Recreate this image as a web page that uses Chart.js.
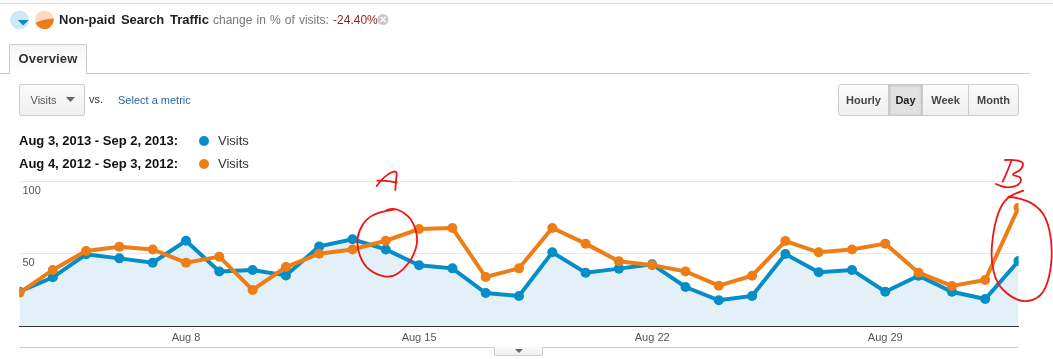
<!DOCTYPE html>
<html><head><meta charset="utf-8">
<script src="https://cdn.jsdelivr.net/npm/chart.js@4"></script>
<style>
html,body{margin:0;padding:0;background:#fff;width:1053px;height:359px;overflow:hidden;font-family:"Liberation Sans",Arial,sans-serif}
.a{position:absolute;white-space:nowrap}
canvas{position:absolute;left:0;top:0}
.btn{background:linear-gradient(#fbfbfb,#efefef);box-sizing:border-box}
.seg{position:absolute;top:0;height:31px;line-height:30px;text-align:center;font-size:11px;font-weight:bold;color:#444;box-sizing:border-box;border-right:1px solid #ccc}
</style></head><body>
<canvas id="c" width="1053" height="359"></canvas>

<div class="a" style="left:0;top:0;width:1053px;height:3px;background:#fafafa;border-bottom:1px solid #ddd"></div>
<svg class="a" style="left:9px;top:9px" width="46" height="22">
  <circle cx="10.5" cy="11" r="9.5" fill="#cfe8f4"/><path d="M15 15 L 28 15 L 21.500 22 Z" transform="translate(-4 -1) scale(.85 .8)" fill="#058dc7"/>
  <circle cx="35.500" cy="11" r="9.500" fill="#fbdcc2"/><path d="M26.500 14 Q33 10 44.800 9.500 Q45 16 39 19.500 Q31 22 26.500 14Z" fill="#ed7e17"/>
</svg>
<div class="a" style="left:59px;top:12px;font-size:13px;font-weight:bold;color:#222;word-spacing:2px">Non-paid Search Traffic</div>
<div class="a" style="left:213px;top:13px;font-size:12px;color:#777;word-spacing:.8px">change in % of visits: <span style="color:#8a2a1c">-24.40%</span></div>
<svg class="a" style="left:376px;top:13px" width="14" height="14"><circle cx="7" cy="6.500" r="5.500" fill="#c9c9c9"/><path d="M4.500 4 L9.500 9 M9.500 4 L4.500 9" stroke="#fff" stroke-width="1.300"/></svg>

<div class="a" style="left:0;top:73px;width:1030px;height:1px;background:#ccc"></div>
<div class="a" style="left:9px;top:44px;width:78px;height:30px;box-sizing:border-box;border:1px solid #ccc;border-bottom:0;background:linear-gradient(#f5f5f5,#fff);font-size:13px;font-weight:bold;color:#333;line-height:28px;text-align:center;border-radius:2px 2px 0 0;letter-spacing:.15px">Overview</div>

<div class="a btn" style="left:19px;top:84px;width:66px;height:32px;border:1px solid #ccc;border-radius:2px;font-size:11px;color:#555;line-height:30px;padding-left:10.500px">Visits</div>
<svg class="a" style="left:66px;top:97px" width="10" height="6"><path d="M0 0H9L4.500 5Z" fill="#666"/></svg>
<div class="a" style="left:89px;top:93px;font-size:11px;color:#333">vs.</div>
<div class="a" style="left:118px;top:94px;font-size:11px;color:#2a66a8">Select a metric</div>

<div class="a" style="left:838px;top:84px;width:181px;height:32px;border:1px solid #ccc;border-radius:3px;box-sizing:border-box;background:linear-gradient(#fbfbfb,#efefef);overflow:hidden">
  <div class="seg" style="left:0;width:50px">Hourly</div>
  <div class="seg" style="left:50px;width:34px;background:#e2e2e2;box-shadow:inset 0 0 3px #999;color:#222">Day</div>
  <div class="seg" style="left:84px;width:46px">Week</div>
  <div class="seg" style="left:130px;width:49px;border-right:0">Month</div>
</div>

<div class="a" style="left:19px;top:133px;font-size:13px;font-weight:bold;color:#111">Aug 3, 2013 - Sep 2, 2013:</div>
<div class="a" style="left:19px;top:156px;font-size:13px;font-weight:bold;color:#111">Aug 4, 2012 - Sep 3, 2012:</div>
<div class="a" style="left:199px;top:136px;width:10px;height:10px;border-radius:50%;background:#058dc7"></div>
<div class="a" style="left:199px;top:159px;width:10px;height:10px;border-radius:50%;background:#ed7e17"></div>
<div class="a" style="left:218px;top:133px;font-size:13px;color:#333">Visits</div>
<div class="a" style="left:218px;top:156px;font-size:13px;color:#333">Visits</div>

<div class="a" style="left:20px;top:347px;width:998px;height:1px;background:#ccc"></div>
<div class="a btn" style="left:494px;top:347px;width:49px;height:9px;border:1px solid #ccc;border-top:0;border-radius:0 0 2px 2px"></div>
<svg class="a" style="left:515px;top:349px" width="9" height="5"><path d="M0 0H8L4 4Z" fill="#666"/></svg>

<svg class="a" id="ink" style="left:0;top:0;pointer-events:none" width="1053" height="359" fill="none" stroke="#f01616" stroke-width="1.800" stroke-linecap="round" stroke-linejoin="round"></svg>

<script>
const categories = ["Aug 3","Aug 4","Aug 5","Aug 6","Aug 7","Aug 8","Aug 9","Aug 10","Aug 11","Aug 12","Aug 13","Aug 14","Aug 15","Aug 16","Aug 17","Aug 18","Aug 19","Aug 20","Aug 21","Aug 22","Aug 23","Aug 24","Aug 25","Aug 26","Aug 27","Aug 28","Aug 29","Aug 30","Aug 31","Sep 1","Sep 2"];
const shownTicks = ["Aug 8","Aug 15","Aug 22","Aug 29"];
const visits2013 = [23.7,33.7,49.6,46.8,43.8,59,37.8,38.8,35,55.1,60,53,42,39.9,22.8,20.8,51,36.9,39.7,42.7,27,17.8,20.8,49.8,37.2,38.8,23.7,34.8,23.7,18.7,45];
const visits2012 = [23,38.8,51.9,54.9,53,43.8,48,24.9,40.8,50,53,59,67.1,67.8,33.9,39.9,67.8,57,44.8,42,37.8,27.9,34.8,58.8,51,53,57,36.9,27.7,31.8,81.9];
const yTicks = [0,50,100];

new Chart(document.getElementById('c'), {
  type: 'line',
  data: { labels: categories, datasets: [
    { label:'Visits 2012', data: visits2012, borderColor:'#ed7e17', backgroundColor:'#ed7e17', pointBackgroundColor:'#ed7e17', pointBorderColor:'#ed7e17', borderWidth:4, pointRadius:5, pointBorderWidth:0, fill:false, tension:0, clip:{left:0,right:0,top:false,bottom:false}, order:1 },
    { label:'Visits 2013', data: visits2013, borderColor:'#058dc7', backgroundColor:'#e3f0f7', pointBackgroundColor:'#058dc7', pointBorderColor:'#058dc7', borderWidth:4, pointRadius:5, pointBorderWidth:0, fill:'origin', tension:0, clip:{left:0,right:0,top:false,bottom:false}, order:2 }
  ]},
  options: {
    responsive:false, animation:false,
    layout:{ padding:{ left:19.5, right:34.5, top:181.5, bottom:13 } },
    plugins:{ legend:{display:false}, tooltip:{enabled:false} },
    scales:{
      x:{ offset:false,
          grid:{display:false, drawTicks:false},
          border:{display:true,color:'#333',width:1},
          ticks:{ autoSkip:false, maxRotation:0, padding:5, color:'#555', font:{family:'"Liberation Sans",Arial,sans-serif',size:11},
                  callback(v){ const l=this.getLabelForValue(v); return shownTicks.includes(l)?l:''; } },
          afterFit(s){ s.height=20; } },
      y:{ min:0,max:100,
          afterBuildTicks(s){ s.ticks = yTicks.map(v=>({value:v})); },
          grid:{color:'#e8e8e8',drawTicks:false},
          border:{display:false},
          ticks:{ mirror:true, padding:3, labelOffset:9, color:'#555', font:{family:'"Liberation Sans",Arial,sans-serif',size:11},
                  callback(v){ return v===0?'':String(v); } },
          afterFit(s){ s.width=0; } }
    }
  }
});

// hand-drawn red annotations over the screenshot
const strokes = [
  [350,160,[[80,78],[100,50],[142,28],[138,60],[136,90]]],
  [350,160,[[82,62],[110,62],[140,68]]],
  [350,160,[[135,148],[90,155],[50,175],[25,215],[20,260],[40,315],[80,345],[125,353],[160,330],[190,290],[205,240],[190,185],[160,155],[130,145],[110,150]]],
  [700,70,[[935,270],[922,305],[908,335]]],
  [700,70,[[915,270],[970,268],[968,298],[930,315],[965,320],[960,345],[920,355],[888,342]]],
  [700,70,[[970,362],[930,375],[900,410],[880,480],[872,570],[890,640],[930,680],[975,698],[1025,680],[1050,620],[1058,530],[1040,440],[1000,400],[960,385],[925,380]]]
];
const ink = document.getElementById('ink');
for (const [ox,oy,pts] of strokes){
  const P = pts.map(([x,y])=>[ox+x/3, oy+y/3]);
  let d = 'M'+P[0][0]+' '+P[0][1];
  for(let i=1;i<P.length-1;i++){ const mx=(P[i][0]+P[i+1][0])/2, my=(P[i][1]+P[i+1][1])/2; d+=' Q'+P[i][0]+' '+P[i][1]+' '+mx+' '+my; }
  d+=' L'+P[P.length-1][0]+' '+P[P.length-1][1];
  const p=document.createElementNS('http://www.w3.org/2000/svg','path'); p.setAttribute('d',d); ink.appendChild(p);
}
</script>
</body></html>
